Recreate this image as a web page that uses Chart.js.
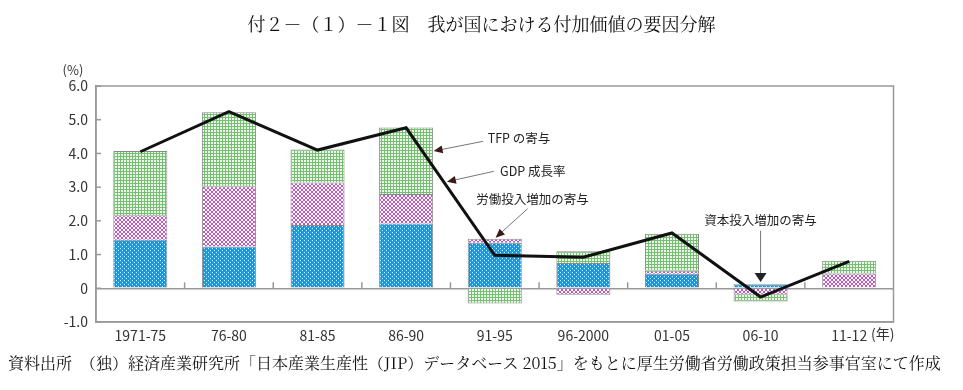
<!DOCTYPE html>
<html lang="ja">
<head>
<meta charset="utf-8">
<script src="https://cdn.jsdelivr.net/npm/chart.js@4"></script>
<style>
  body { margin: 0; background: #fff; }
  #wrap { position: relative; width: 963px; height: 390px; }
  #title {
    position: absolute; left: 0; top: 10px; width: 963px; text-align: center;
    font-family: "Noto Serif CJK JP", "Noto Sans CJK JP", serif; font-size: 18px; color: #111;
  }
  #note {
    position: absolute; left: 8px; top: 351px; white-space: nowrap;
    font-family: "Noto Serif CJK JP", "Noto Sans CJK JP", serif; font-size: 16px; color: #111;
  }
</style>
</head>
<body>
<div id="wrap">
  <canvas id="chart" width="963" height="390"></canvas>
  <div id="title">付２－（１）－１図　我が国における付加価値の要因分解</div>
  <div id="note">資料出所　（独）経済産業研究所「日本産業生産性（JIP）データベース 2015」をもとに厚生労働省労働政策担当参事官室にて作成</div>
</div>
<script>
(() => {
	"use strict";

	// data (%)
	const categories = ["1971-75", "76-80", "81-85", "86-90", "91-95", "96-2000", "01-05", "06-10", "11-12"];
	const capital = [1.44, 1.24, 1.88, 1.92, 1.35, 0.75, 0.43, 0.12, 0.03];
	const labor = [0.73, 1.79, 1.26, 0.88, 0.12, -0.19, 0.09, -0.19, 0.41];
	const tfp = [1.90, 2.19, 0.98, 1.97, -0.45, 0.35, 1.10, -0.20, 0.38];
	const gdp = [4.05, 5.24, 4.10, 4.76, 0.98, 0.92, 1.64, -0.26, 0.80];
	const yTicks = [-1, 0, 1, 2, 3, 4, 5, 6];

	const FONT = '"Noto Sans CJK JP", sans-serif';

	function makePattern(size, draw) {
		const c = document.createElement("canvas");
		c.width = size;
		c.height = size;
		draw(c.getContext("2d"));
		return c.getContext("2d").createPattern(c, "repeat");
	}

	// blue with small white holes
	const bluePat = makePattern(4, (g) => {
		g.fillStyle = "#1d9ddc";
		g.fillRect(0, 0, 4, 4);
		g.fillStyle = "#d8f0fb";
		g.fillRect(0, 0, 1, 1);
		g.fillRect(2, 2, 1, 1);
		g.fillStyle = "#1283c2";
		g.fillRect(1, 0, 1, 1);
		g.fillRect(3, 2, 1, 1);
	});
	// magenta cross hatch
	const pinkPat = makePattern(4, (g) => {
		g.fillStyle = "#ffffff";
		g.fillRect(0, 0, 4, 4);
		g.fillStyle = "#c257c2";
		for (let i = 0; i < 4; i++) {
			g.fillRect(i, i, 1, 1);
			g.fillRect(3 - i, i, 1, 1);
		}
	});
	// green grid
	const greenPat = makePattern(3, (g) => {
		g.fillStyle = "#eef8ea";
		g.fillRect(0, 0, 3, 3);
		g.fillStyle = "#74bf72";
		g.fillRect(0, 0, 3, 1);
		g.fillRect(0, 0, 1, 3);
	});

	function arrow(ctx, x1, y1, x2, y2, len, half) {
		const a = Math.atan2(y2 - y1, x2 - x1);
		ctx.beginPath();
		ctx.moveTo(x1, y1);
		ctx.lineTo(x2 - Math.cos(a) * len * 0.6, y2 - Math.sin(a) * len * 0.6);
		ctx.stroke();
		ctx.beginPath();
		ctx.moveTo(x2, y2);
		ctx.lineTo(x2 - Math.cos(a) * len - Math.sin(a) * half, y2 - Math.sin(a) * len + Math.cos(a) * half);
		ctx.lineTo(x2 - Math.cos(a) * len + Math.sin(a) * half, y2 - Math.sin(a) * len - Math.cos(a) * half);
		ctx.closePath();
		ctx.fill();
	}

	const deco = {
		id: "deco",
		beforeDatasetsDraw(chart) {
			const { ctx, chartArea: a, scales: { x, y } } = chart;
			const y0 = y.getPixelForValue(0);
			ctx.save();
			ctx.strokeStyle = "#999";
			ctx.lineWidth = 1.5;
			// small marks between categories on the zero line
			for (let i = 1; i < categories.length; i++) {
				const px = (x.getPixelForValue(i - 1) + x.getPixelForValue(i)) / 2;
				ctx.beginPath();
				ctx.moveTo(px, y0);
				ctx.lineTo(px, y0 - 6);
				ctx.stroke();
			}
			// y ticks inside the frame
			yTicks.forEach((v) => {
				const py = y.getPixelForValue(v);
				ctx.beginPath();
				ctx.moveTo(a.left, py);
				ctx.lineTo(a.left + 5, py);
				ctx.stroke();
			});
			ctx.strokeRect(a.left, a.top, a.right - a.left, a.bottom - a.top);
			ctx.restore();
		},
		afterDatasetsDraw(chart) {
			const { ctx, chartArea: a, scales: { x, y } } = chart;
			const X = (v) => x.getPixelForValue(v);
			const Y = (v) => y.getPixelForValue(v);
			ctx.save();
			ctx.font = "12.5px " + FONT;
			ctx.fillStyle = "#222";
			ctx.textBaseline = "middle";

			ctx.fillText("TFP の寄与", X(3.92), Y(4.44));
			ctx.fillText("GDP 成長率", X(4.06), Y(3.47));
			ctx.fillText("労働投入増加の寄与", X(3.79), Y(2.63));
			ctx.textAlign = "center";
			ctx.fillText("資本投入増加の寄与", X(7), Y(2.01));

			ctx.strokeStyle = "#777";
			ctx.fillStyle = "#3a1a14";
			ctx.lineWidth = 1;
			arrow(ctx, X(3.87), Y(4.36), X(3.31), Y(4.07), 9, 4);
			arrow(ctx, X(3.99), Y(3.47), X(3.46), Y(3.16), 9, 4);
			arrow(ctx, X(4.37), Y(2.36), X(4.01), Y(1.50), 9, 4);
			ctx.fillStyle = "#222";
			arrow(ctx, X(7), Y(1.71), X(7), Y(0.19), 9, 6);

			// unit labels
			ctx.font = "13px " + FONT;
			ctx.fillStyle = "#333";
			ctx.textAlign = "center";
			ctx.fillText("(%)", a.left - 23, a.top - 16);
			ctx.textAlign = "right";
			ctx.font = "14px " + FONT;
			ctx.fillText("(年)", a.right + 1, a.bottom + 12);
			ctx.restore();
		},
	};

	const ctx = document.getElementById("chart");
	// eslint-disable-next-line no-unused-vars
	const myChart = new Chart(ctx, {
		data: {
			labels: categories,
			datasets: [
				{
					type: "line",
					label: "GDP 成長率",
					data: gdp,
					borderColor: "#111",
					borderWidth: 3,
					pointRadius: 0,
					tension: 0,
					stack: "gdp",
					order: 0,
				},
				{
					type: "bar",
					label: "資本投入増加の寄与",
					data: capital,
					backgroundColor: bluePat,
					borderColor: "#8a8a8a",
					borderWidth: 1,
					order: 1,
				},
				{
					type: "bar",
					label: "労働投入増加の寄与",
					data: labor,
					backgroundColor: pinkPat,
					borderColor: "#8a8a8a",
					borderWidth: 1,
					order: 1,
				},
				{
					type: "bar",
					label: "TFP の寄与",
					data: tfp,
					backgroundColor: greenPat,
					borderColor: "#8a8a8a",
					borderWidth: 1,
					order: 1,
				},
			],
		},
		options: {
			responsive: false,
			animation: false,
			layout: { padding: { top: 86, right: 69.5, left: 0, bottom: 0 } },
			datasets: { bar: { categoryPercentage: 1, barPercentage: 0.61 } },
			plugins: {
				legend: { display: false },
				tooltip: { enabled: false },
			},
			scales: {
				x: {
					stacked: true,
					grid: { display: false },
					border: { display: true, color: "#999", width: 1.5 },
					ticks: { color: "#333", font: { family: FONT, size: 14 }, padding: -3, maxRotation: 0 },
					afterFit: (s) => { s.height = 68; },
				},
				y: {
					stacked: true,
					min: -1,
					max: 6,
					afterBuildTicks: (s) => { s.ticks = yTicks.map((v) => ({ value: v })); },
					grid: {
						drawTicks: false,
						color: (c) => (c.tick && c.tick.value === 0 ? "#999" : "transparent"),
						lineWidth: 1.5,
					},
					border: { display: true, color: "#999", width: 1.5 },
					ticks: {
						color: "#333",
						font: { family: FONT, size: 14 },
						padding: 8,
						callback: (v) => (v === 0 ? "0" : v.toFixed(1)),
					},
					afterFit: (s) => { s.width = 96; },
				},
			},
		},
		plugins: [deco],
	});
})();
</script>
</body>
</html>
